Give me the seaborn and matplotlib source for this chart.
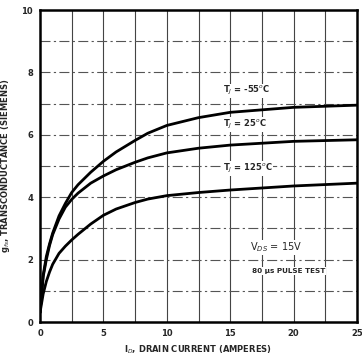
import numpy as np
import pandas as pd
import matplotlib
matplotlib.use("Agg")
import matplotlib.pyplot as plt
import seaborn as sns

# Drain current (A) and forward transconductance (S) at three junction temperatures
drain_current = [0, 0.25, 0.5, 0.75, 1, 1.5, 2, 2.5, 3, 4, 5, 6, 7.5, 8.5, 10, 12.5, 15, 20, 25]
gfs_minus55 = [0.3, 1.5, 2.1, 2.5, 2.85, 3.4, 3.8, 4.15, 4.4, 4.8, 5.15, 5.45, 5.82, 6.05, 6.3, 6.55, 6.72, 6.88, 6.95]
gfs_25 = [0.3, 1.45, 2.0, 2.45, 2.8, 3.3, 3.68, 3.93, 4.13, 4.45, 4.68, 4.88, 5.12, 5.26, 5.42, 5.57, 5.67, 5.79, 5.84]
gfs_125 = [0.3, 0.9, 1.3, 1.6, 1.85, 2.2, 2.43, 2.63, 2.81, 3.14, 3.42, 3.62, 3.83, 3.94, 4.05, 4.15, 4.23, 4.36, 4.45]

curve_labels = ["T$_J$ = -55$^o$C", "T$_J$ = 25$^o$C", "T$_J$ = 125$^o$C"]
x_ticks = [0, 5, 10, 15, 20, 25]
y_ticks = [0, 2, 4, 6, 8, 10]

df = pd.concat([
    pd.DataFrame({"id": drain_current, "gfs": g, "tj": lab})
    for g, lab in zip([gfs_minus55, gfs_25, gfs_125], curve_labels)
])

sns.set_theme(style="white")
plt.rcParams["font.family"] = ["DejaVu Sans"]

fig = plt.figure(figsize=(3.62, 3.60), dpi=100)
ax = fig.add_axes([40 / 362, 1 - 322 / 360, (357 - 40) / 362, (322 - 10) / 360])

sns.lineplot(data=df, x="id", y="gfs", units="tj", estimator=None,
             color="black", lw=2.0, ax=ax, legend=False, sort=False)

ax.set_xlim(0, 25)
ax.set_ylim(0, 10)

# grid: solid verticals every 2.5 A, dash-dot horizontals every 1 S
for xv in np.arange(2.5, 25, 2.5):
    ax.axvline(xv, color="#444444", lw=0.8, zorder=0)
for yv in np.arange(1, 10, 1):
    ax.axhline(yv, color="#555555", lw=0.8, ls=(0, (9, 3, 2, 3)), zorder=0)

ax.set_xticks(x_ticks)
ax.set_yticks(y_ticks)
ax.set_xticklabels([str(v) for v in x_ticks], fontsize=6, fontweight="bold")
ax.set_yticklabels([str(v) for v in y_ticks], fontsize=6, fontweight="bold")
ax.tick_params(axis="both", length=0, pad=5)

for s in ax.spines.values():
    s.set_visible(True)
    s.set_color("black")
    s.set_linewidth(1.8)

ax.set_xlabel("I$_D$, DRAIN CURRENT (AMPERES)", fontsize=6, fontweight="bold", labelpad=4)
ax.set_ylabel("g$_{fs}$, TRANSCONDUCTANCE (SIEMENS)", fontsize=6, fontweight="bold")
ax.yaxis.set_label_coords(-0.088, 0.5)

label_pos = [(14.4, 7.2), (14.4, 6.12), (14.4, 4.71)]
for lab, (lx, ly) in zip(curve_labels, label_pos):
    ax.text(lx, ly, lab, fontsize=6, fontweight="bold", va="bottom", ha="left",
            bbox=dict(facecolor="white", edgecolor="none", pad=0.5))

ax.text(16.6, 2.4, "V$_{DS}$ = 15V", fontsize=7, va="center", ha="left",
        bbox=dict(facecolor="white", edgecolor="none", pad=0.5))
ax.text(16.7, 1.64, "80 \u03bcs PULSE TEST", fontsize=5.2, fontweight="bold",
        va="center", ha="left",
        bbox=dict(facecolor="white", edgecolor="none", pad=0.5))

fig.savefig("out.png", dpi=100)
